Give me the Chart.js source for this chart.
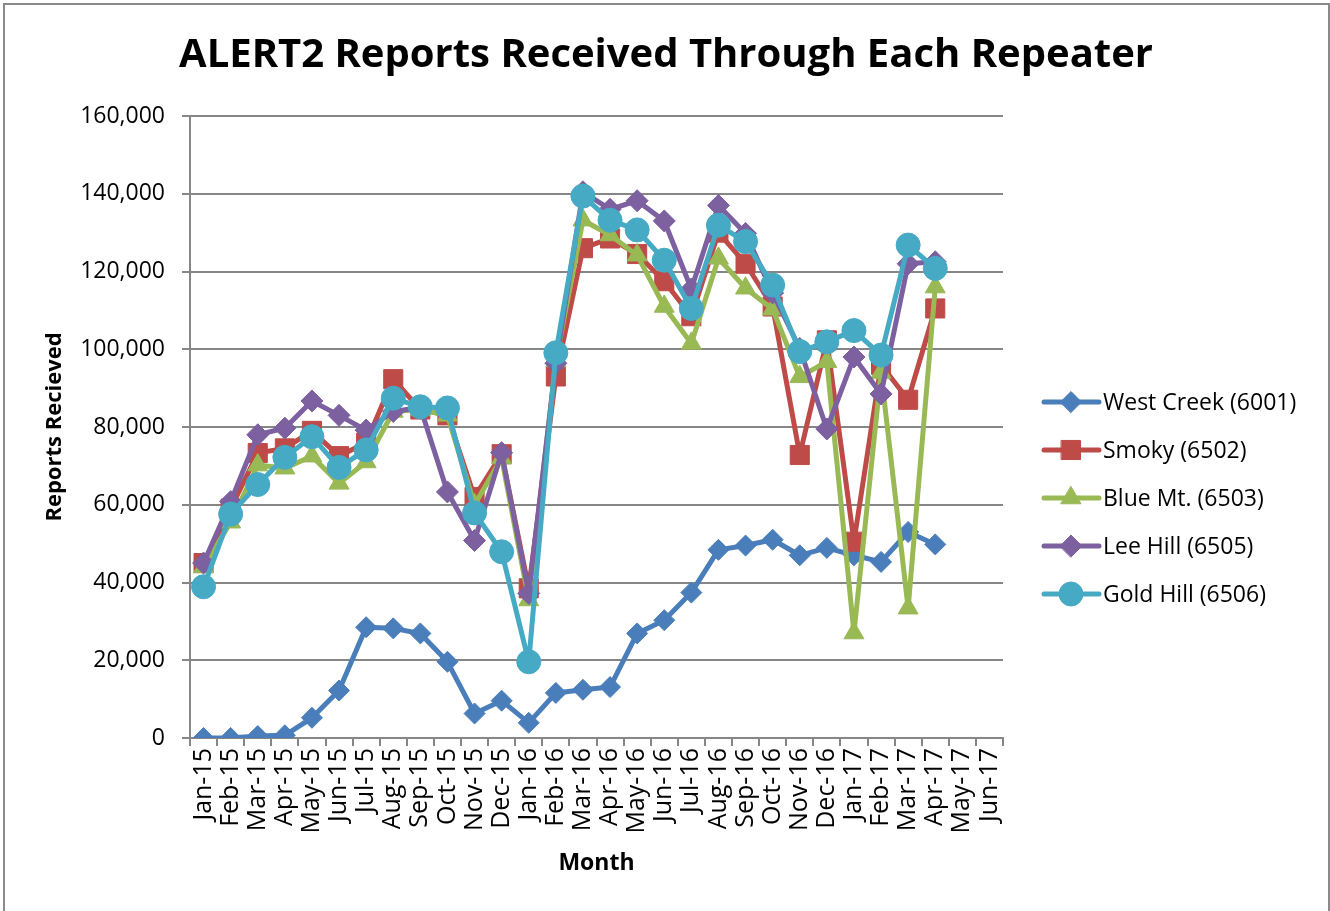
<!DOCTYPE html>
<html>
<head>
<meta charset="utf-8">
<title>ALERT2 Reports Received Through Each Repeater</title>
<script src="https://cdn.jsdelivr.net/npm/chart.js@4.4.1/dist/chart.umd.min.js"></script>
<style>
    html, body { margin: 0; padding: 0; background: #fff; }
    #wrap { position: relative; width: 1330px; height: 911px; }
</style>
</head>
<body>
<div id="wrap"><canvas id="repeaterChart" width="1330" height="911"></canvas></div>
<script>
// months on the x axis
var months = ["Jan-15", "Feb-15", "Mar-15", "Apr-15", "May-15", "Jun-15", "Jul-15", "Aug-15", "Sep-15", "Oct-15", "Nov-15", "Dec-15",
              "Jan-16", "Feb-16", "Mar-16", "Apr-16", "May-16", "Jun-16", "Jul-16", "Aug-16", "Sep-16", "Oct-16", "Nov-16", "Dec-16",
              "Jan-17", "Feb-17", "Mar-17", "Apr-17", "May-17", "Jun-17"];

// reports per repeater, Jan-15 .. Apr-17
var westCreek = [0, 0, 500, 700, 5200, 12200, 28500, 28200, 26900, 19600, 6300, 9600,
                 3900, 11600, 12400, 13100, 26900, 30300, 37400, 48400, 49500, 51000, 47000, 48900,
                 47000, 45300, 53000, 49800];
var smoky = [45000, 59000, 73300, 74500, 79000, 72500, 76000, 92300, 84500, 83000, 62000, 73000,
             38500, 93000, 126000, 128500, 124500, 117500, 108500, 130000, 122000, 111000, 72800, 102300,
             50500, 96000, 87000, 110500];
var blueMt = [44000, 55500, 70200, 69400, 72500, 65500, 71000, 84000, 84500, 83000, 60000, 72000,
              35500, 97000, 133200, 129400, 124200, 111000, 101500, 123400, 115700, 110300, 92900, 96800,
              27000, 94000, 33400, 116000];
var leeHill = [45000, 60800, 78000, 79700, 86700, 83000, 79200, 84000, 85000, 63300, 50800, 73400,
               37200, 96400, 140500, 136000, 138200, 133000, 115500, 137000, 129800, 114500, 100200, 79500,
               98000, 88500, 122000, 122500];
var goldHill = [38900, 57600, 65200, 72200, 77500, 69600, 74100, 87400, 85200, 84900, 57900, 47900,
                19600, 99100, 139400, 133200, 130700, 122900, 110500, 131900, 127700, 116500, 99400, 101900,
                104800, 98500, 126800, 120800];

var seriesNames = ["West Creek (6001)", "Smoky (6502)", "Blue Mt. (6503)", "Lee Hill (6505)", "Gold Hill (6506)"];
var yTicks = [0, 20000, 40000, 60000, 80000, 100000, 120000, 140000, 160000];

var FONT = "'Open Sans', 'Noto Sans', sans-serif";
var GRID = "#868686";

function series(label, data, color, style, radius, order) {
    return {
        label: label,
        data: data,
        borderColor: color,
        backgroundColor: color,
        borderWidth: 5,
        borderJoinStyle: 'round',
        borderCapStyle: 'round',
        pointStyle: style,
        pointRadius: radius,
        pointHoverRadius: radius,
        pointBackgroundColor: color,
        pointBorderColor: color,
        pointBorderWidth: 1,
        tension: 0,
        fill: false,
        order: order
    };
}

// border, title and the line+marker legend
var decorations = {
    id: 'decorations',
    beforeDraw: function(chart) {
        var ctx = chart.ctx;
        ctx.save();
        ctx.fillStyle = "#fff";
        ctx.fillRect(0, 0, chart.width, chart.height);
        ctx.strokeStyle = "#8a8a8a";
        ctx.lineWidth = 2;
        ctx.strokeRect(4, 4, 1325, 1000);
        ctx.restore();
    },
    afterDraw: function(chart) {
        var ctx = chart.ctx;
        ctx.save();
        ctx.fillStyle = "#000";
        ctx.font = "bold 40px " + FONT;
        ctx.textAlign = "center";
        ctx.textBaseline = "middle";
        ctx.fillText("ALERT2 Reports Received Through Each Repeater", 666, 56);

        ctx.font = "23px " + FONT;
        ctx.textAlign = "left";
        chart.data.datasets.forEach(function(ds, i) {
            var y = 402 + 48 * i;
            ctx.strokeStyle = ds.borderColor;
            ctx.lineWidth = 5;
            ctx.lineCap = "round";
            ctx.beginPath();
            ctx.moveTo(1044, y);
            ctx.lineTo(1099, y);
            ctx.stroke();
            ctx.fillStyle = ds.pointBackgroundColor;
            ctx.strokeStyle = ds.pointBorderColor;
            ctx.lineWidth = 1;
            Chart.helpers.drawPoint(ctx, { pointStyle: ds.pointStyle, radius: ds.pointRadius, rotation: 0, borderWidth: 1 }, 1071, y);
            ctx.fillStyle = "#000";
            ctx.fillText(ds.label, 1103, y + 1);
        });
        ctx.restore();
    }
};

var ctx = document.getElementById('repeaterChart').getContext('2d');
var repeaterChart = new Chart(ctx, {
    type: 'line',
    data: {
        labels: months,
        datasets: [
            series(seriesNames[0], westCreek, "#4A7EBB", 'rectRot', 10.5, 5),
            series(seriesNames[1], smoky, "#BE4B48", 'rect', 13.5, 4),
            series(seriesNames[2], blueMt, "#98B954", 'triangle', 11.5, 3),
            series(seriesNames[3], leeHill, "#7D60A0", 'rectRot', 11, 2),
            series(seriesNames[4], goldHill, "#46AAC5", 'circle', 12, 1)
        ]
    },
    options: {
        responsive: false,
        animation: false,
        events: [],
        layout: { padding: { left: 0, top: 116, right: 327, bottom: 0 } },
        plugins: {
            legend: { display: false },
            title: { display: false },
            tooltip: { enabled: false }
        },
        scales: {
            x: {
                offset: true,
                grid: { offset: true, drawOnChartArea: false, drawTicks: true, tickLength: 8, color: GRID, lineWidth: 2 },
                border: { display: true, color: GRID, width: 2 },
                ticks: { autoSkip: false, minRotation: 90, maxRotation: 90, padding: 2, color: "#000", font: { family: FONT, size: 25 } },
                title: { display: true, text: "Month", color: "#000", font: { family: FONT, size: 23, weight: 'bold' }, padding: { top: 0, bottom: 34 } },
                afterFit: function(scale) { scale.height = 173; }
            },
            y: {
                min: 0,
                max: 160000,
                afterBuildTicks: function(scale) {
                    scale.ticks = yTicks.map(function(v) { return { value: v }; });
                },
                grid: { color: GRID, lineWidth: 2, tickLength: 8 },
                border: { display: true, color: GRID, width: 2 },
                ticks: {
                    padding: 17,
                    color: "#000",
                    font: { family: FONT, size: 23 },
                    callback: function(v) { return v.toLocaleString('en-US'); }
                },
                title: { display: true, text: "Reports Recieved", color: "#000", font: { family: FONT, size: 22, weight: 'bold' }, padding: { top: 42, bottom: 0 } },
                afterFit: function(scale) { scale.width = 190; }
            }
        }
    },
    plugins: [decorations]
});
</script>
</body>
</html>
